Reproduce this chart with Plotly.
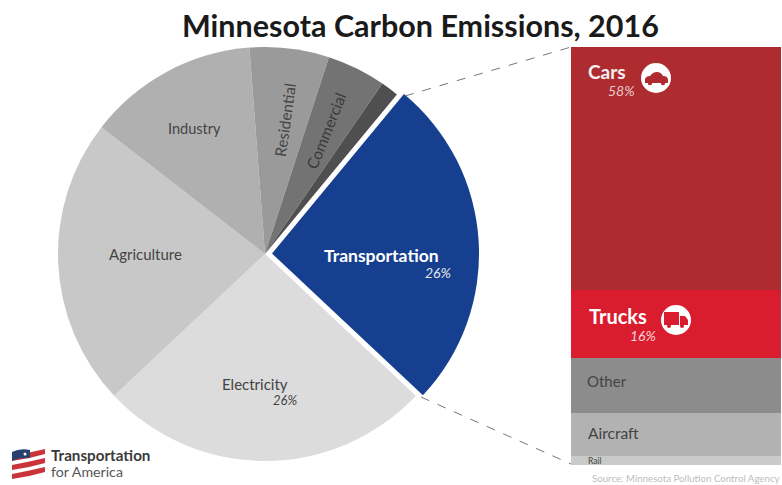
import plotly.graph_objects as go

W, H = 782, 485
FONT = "Lato"

sectors = ["Transportation", "Electricity", "Agriculture", "Industry", "Residential", "Commercial", "Other"]
sector_values = [26.0, 26.0, 22.5, 13.3, 6.2, 4.6, 1.4]
sector_colors = ["#16408F", "#DCDCDC", "#C8C8C8", "#B0B0B0", "#9A9A9A", "#737373", "#4F4F4F"]
sector_pull = [0.034, 0, 0, 0, 0, 0, 0]

modes = ["Rail", "Aircraft", "Other", "Trucks", "Cars"]
mode_values = [2.1, 10.3, 13.2, 16.3, 58.1]
mode_colors = ["#CACACA", "#B2B2B2", "#8C8C8C", "#D91C2E", "#AE2B2F"]


def px(x):
    return x / W


def py(y):
    return 1 - y / H


def path(points):
    return "M " + " L ".join(f"{px(x):.5f},{py(y):.5f}" for x, y in points) + " Z"


def curve(d):
    out = []
    for tok in d:
        if isinstance(tok, str):
            out.append(tok)
        else:
            out.append(f"{px(tok[0]):.5f},{py(tok[1]):.5f}")
    return " ".join(out)


fig = go.Figure()

cx, cy, r = 265, 254, 207
half = r * (1 + max(sector_pull))
fig.add_trace(go.Pie(
    labels=sectors, values=sector_values, sort=False, direction="clockwise", rotation=39.6,
    pull=sector_pull, textinfo="none", showlegend=False,
    marker=dict(colors=sector_colors, line=dict(width=0)),
    domain=dict(x=[px(cx - half), px(cx + half)], y=[py(cy + half), py(cy - half)]),
))

for name, value, color in zip(modes, mode_values, mode_colors):
    fig.add_trace(go.Bar(x=["Transportation"], y=[value], name=name, marker=dict(color=color, line=dict(width=0)),
                         width=1, showlegend=False, xaxis="x", yaxis="y"))

shapes = [
    dict(type="line", xref="paper", yref="paper", x0=px(405), y0=py(96), x1=px(571), y1=py(47),
         line=dict(color="#777777", width=1, dash="dash")),
    dict(type="line", xref="paper", yref="paper", x0=px(421), y0=py(397), x1=px(571), y1=py(464),
         line=dict(color="#777777", width=1, dash="dash")),
]


def circle(x, y, rad, color="white"):
    return dict(type="circle", xref="paper", yref="paper", x0=px(x - rad), x1=px(x + rad),
                y0=py(y + rad), y1=py(y - rad), fillcolor=color, line=dict(width=0), layer="above")


def filled(d, color):
    return dict(type="path", xref="paper", yref="paper", path=d, fillcolor=color, line=dict(width=0), layer="above")


# car icon
shapes.append(circle(656, 78, 15))
shapes.append(filled(curve(["M", (645, 83), "L", (645, 79), "Q", (646, 76), (650, 76), "Q", (653, 72), (657, 72),
                            "Q", (661, 72), (663, 76), "Q", (668, 76), (668, 80), "L", (668, 83), "Z"]), "#AE2B2F"))
shapes.append(circle(650, 83, 2.2, "#AE2B2F"))
shapes.append(circle(663, 83, 2.2, "#AE2B2F"))
# truck icon
shapes.append(circle(676, 320, 15))
shapes.append(filled(path([(664, 312), (679, 312), (679, 325), (664, 325)]), "#D91C2E"))
shapes.append(filled(path([(680, 316), (685, 316), (688, 320), (688, 325), (680, 325)]), "#D91C2E"))
shapes.append(circle(669, 326, 2, "#D91C2E"))
shapes.append(circle(682, 326, 2, "#D91C2E"))

# logo flag
for y0 in (0, 9, 18):
    shapes.append(filled(curve(["M", (12, 456 + y0), "Q", (28, 453 + y0), (45, 449 + y0), "L", (45, 454 + y0),
                                "Q", (28, 459 + y0), (12, 461 + y0), "Z"]), "#C8343A"))
shapes.append(filled(curve(["M", (12, 452), "Q", (20, 448), (30, 450), "L", (30, 458), "Q", (20, 457), (12, 461), "Z"]),
                     "#26406F"))
shapes.append(circle(25, 454, 1.5))


def note(text, x, y, size, color="#444444", bold=False, italic=False, angle=0, anchor="center", family=FONT):
    if bold:
        text = f"<b>{text}</b>"
    if italic:
        text = f"<i>{text}</i>"
    return dict(text=text, x=px(x), y=py(y), xref="paper", yref="paper", showarrow=False, xanchor=anchor,
                yanchor="middle", textangle=angle, font=dict(family=family, size=size, color=color))


annotations = [
    note("<b>Minnesota Carbon Emissions, 2016</b>", 420, 25, 30.5, "#1A1A1A"),
    note("Transportation", 381, 255, 17.5, "white", bold=True),
    note("26%", 438, 272, 14, "#E6E6E6", italic=True),
    note("Electricity", 255, 384, 15),
    note("26%", 285, 400, 13, "#444444", italic=True),
    note("Agriculture", 145, 254, 15),
    note("Industry", 194, 129, 14.5),
    note("Residential", 285, 120, 15.5, angle=-82),
    note("Commercial", 326, 131, 15.5, "#3A3A3A", angle=-68),
    note("Cars", 607, 71, 19, "#F5F0F0", bold=True),
    note("58%", 621, 90, 14, "#E8CFCF", italic=True),
    note("Trucks", 618, 316, 20, "white", bold=True),
    note("16%", 643, 335, 14, "#F6D5D8", italic=True),
    note("Other", 607, 381, 15),
    note("Aircraft", 613, 433, 15.5),
    note("Rail", 595, 461, 8.5),
    note("Source: Minnesota Pollution Control Agency", 782, 478, 9.7, "#BDBDBD", anchor="right"),
    note("Transportation", 49, 455, 15.2, "#3A3A3A", bold=True, anchor="left"),
    note("for America", 49, 471, 14.2, "#555555", anchor="left"),
]

fig.update_layout(
    width=W, height=H, autosize=False, margin=dict(l=0, r=0, t=0, b=0),
    paper_bgcolor="white", plot_bgcolor="white", barmode="stack", bargap=0,
    shapes=shapes, annotations=annotations, font=dict(family=FONT),
    xaxis=dict(domain=[px(571), px(781)], visible=False, type="category"),
    yaxis=dict(domain=[py(465), py(47)], visible=False, range=[0, 100]),
)

fig.write_html("out.html", config=dict(displayModeBar=False),
               post_script="document.body.style.margin='0';document.documentElement.style.overflow='hidden';")
